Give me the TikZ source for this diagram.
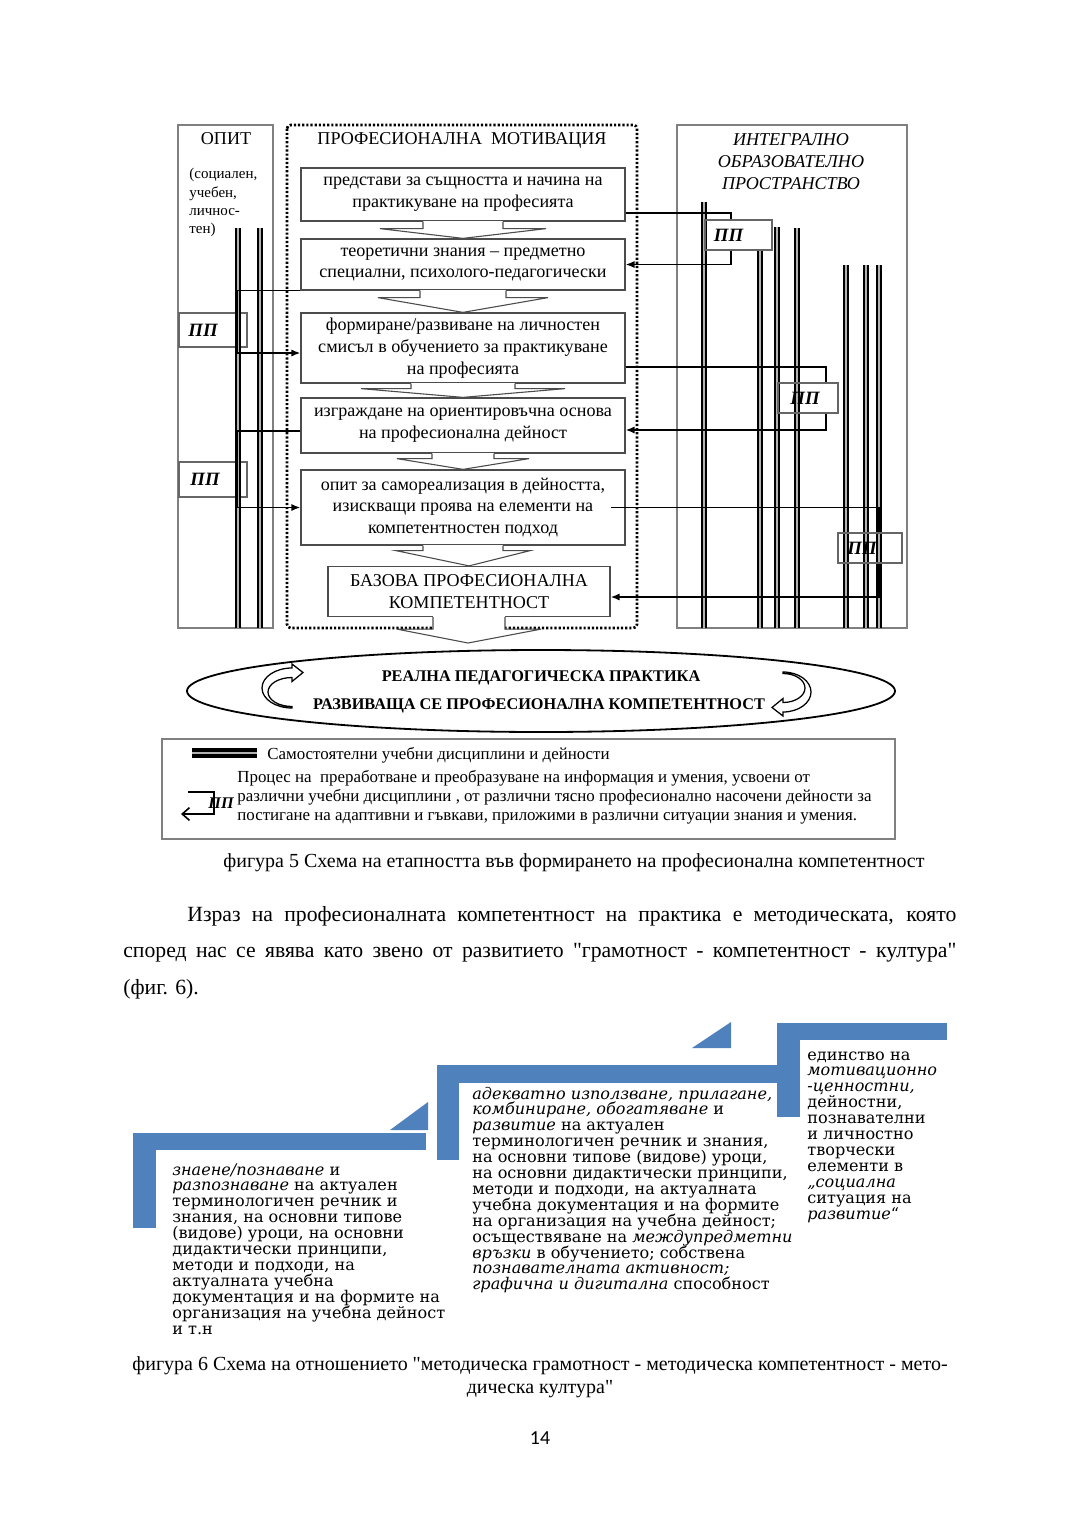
\documentclass[tikz,border=0pt]{standalone}
\usepackage{fontspec}
\setmainfont{Liberation Serif}[Ligatures=TeXOff]
\newfontfamily\bookfont{DejaVu Serif}
\newfontfamily\pagefont{Carlito}
\usetikzlibrary{arrows.meta,calc,positioning}
\definecolor{stair}{HTML}{4F81BD}
\newlength\px
\setlength\px{0.019444cm}

\tikzset{
  stagebox/.style={draw=black!70, line width=0.7pt, minimum width=324\px, align=center,
    inner sep=0pt, font=\fontsize{10}{12.1}\selectfont},
  ppbox/.style={draw=black!60, line width=0.6pt, inner sep=0pt,
    font=\fontsize{10.4}{12}\selectfont\bfseries\itshape},
  conn/.style={line width=0.9pt},
  arr/.style={conn, -{Latex[length=5pt,width=4pt]}},
  chev/.style={draw=black!70, line width=0.6pt},
  discline/.style={line width=1.1pt, double=black!30, double distance=1.6pt},
  framebox/.style={draw=black!50, line width=0.8pt},
  legtext/.style={anchor=base west, inner sep=0pt, font=\fontsize{9.35}{11}\selectfont},
  stairtext/.style={anchor=base west, inner sep=0pt, font=\bookfont\fontsize{8.9}{9}\selectfont},
}

% block arrow between two stages
\newcommand{\stagearrow}[5]{%
  \fill[white] ($(#1.south)+(-#3,-1)$) rectangle ($(#1.south)+(#3,#5+1)$);
  \draw[chev] ($(#1.south)+(-#3,0)$) -- ($(#1.south)+(-#3,#5)$) -- ($(#1.south)+(-#4,#5)$)
    -- (#2) -- ($(#1.south)+(#4,#5)$) -- ($(#1.south)+(#3,#5)$) -- ($(#1.south)+(#3,0)$);}

\begin{document}
\begin{tikzpicture}[x=0.019444cm, y=-0.019444cm]
  \fill[white] (0,0) rectangle (1080,1527);
  \useasboundingbox (0,0) rectangle (1080,1527);

  % --- figure 5 ---
  \draw[framebox] (178,125) rectangle (273,628);
  \draw[framebox] (677,125) rectangle (907,628);
  \draw[line width=1.5pt, dash pattern=on 1.2pt off 1.1pt, rounded corners=2pt] (287,125) rectangle (637,628);

  \node[font=\fontsize{10}{12}\selectfont] (opittitle) at (226,139) {ОПИТ};
  \node[anchor=north west, align=left, inner sep=0pt, font=\fontsize{8.3}{10.1}\selectfont] (opitsub) at (189,168)
    {(социален,\\учебен,\\личнос-\\тен)};
  \node[font=\fontsize{10}{12}\selectfont] (motiv) at (462,140) {ПРОФЕСИОНАЛНА\ \ МОТИВАЦИЯ};
  \node[align=center, font=\fontsize{10}{12.1}\selectfont\itshape] (integr) at (791,161.5)
    {ИНТЕГРАЛНО\\ОБРАЗОВАТЕЛНО\\ПРОСТРАНСТВО};

  \node[ppbox, minimum width=68\px, minimum height=34\px] (lpp1) at (213,330) {ПП\hspace*{20\px}};
  \node[ppbox, minimum width=68\px, minimum height=35\px] (lpp2) at (213,479.5) {ПП\hspace*{16\px}};

  \foreach \xd in {238,260}
    \draw[discline] (\xd,228) -- (\xd,628);
  \foreach \xd/\yt in {704/202, 760/250, 777/227, 797/228, 846/265, 866/265, 879/265}
    \draw[discline] (\xd,\yt) -- (\xd,628);

  \node[stagebox, minimum height=53\px] (pred) at (463,194.5) {представи за същността и начина на\\практикуване на професията};
  \node[stagebox, minimum height=51\px] (teor) at (463,264.5) {теоретични знания – предметно\\специални, психолого-педагогически};
  \node[stagebox, minimum height=70\px] (form) at (463,348) {формиране/развиване на личностен\\смисъл в обучението за практикуване\\на професията};
  \node[stagebox, minimum height=55\px] (izgr) at (463,425.5) {изграждане на ориентировъчна основа\\на професионална дейност};
  \node[stagebox, minimum height=75\px] (opit) at (463,507.5) {опит за самореализация в дейността,\\изискващи проява на елементи на\\компетентностен подход};
  \node[stagebox, minimum width=282\px, minimum height=50\px] (baza) at (469,591.5) {БАЗОВА ПРОФЕСИОНАЛНА\\КОМПЕТЕНТНОСТ};

  \stagearrow{pred}{teor.north}{40}{83}{7}
  \stagearrow{teor}{form.north}{43}{85}{7}
  \stagearrow{form}{izgr.north}{52}{102}{5}
  \stagearrow{izgr}{opit.north}{31}{66}{5}
  \stagearrow{opit}{baza.north}{40}{67}{5}
  \coordinate (ptip) at (468,643);
  \stagearrow{baza}{ptip}{36}{72}{12}

  % left connectors
  \draw[arr] (teor.south west) -| ($(form.west)+(-63,5)$) -- ($(form.west)+(0,5)$);
  \draw[arr] ($(izgr.west)+(0,5.5)$) -| ($(opit.west)+(-63,0)$) -- (opit.west);

  % right connectors
  \node[ppbox, minimum width=67\px, minimum height=30\px] (rpp1) at (738.5,235) {ПП\hspace*{20\px}};
  \node[ppbox, minimum width=60\px, minimum height=30\px] (rpp2) at (808,398) {ПП\hspace*{6\px}};
  \node[ppbox, minimum width=64\px, minimum height=30\px] (rpp3) at (870,548) {ПП\hspace*{16\px}};
  \draw[conn] ($(pred.east)+(0,18.5)$) -| ($(rpp1.north)+(-7.5,0)$);
  \draw[arr] ($(rpp1.south)+(-7.5,0)$) |- (teor.east);
  \draw[conn] ($(form.east)+(0,19)$) -| ($(rpp2.north)+(18,0)$);
  \draw[arr] ($(rpp2.south)+(18,0)$) |- ($(izgr.east)+(0,4.5)$);
  \draw[conn] ($(opit.east)+(-15,0)$) -| ($(rpp3.north)+(9,0)$);
  \draw[arr] ($(rpp3.south)+(9,0)$) |- ($(baza.east)+(0,5.5)$);

  % ellipse
  \draw[line width=1pt] (541,691) ellipse [x radius=354, y radius=41];
  \node[font=\fontsize{9}{10}\selectfont\bfseries] (real) at (541,678) {РЕАЛНА ПЕДАГОГИЧЕСКА ПРАКТИКА};
  \node[font=\fontsize{9}{10}\selectfont\bfseries] (razv) at (539,706) {РАЗВИВАЩА СЕ ПРОФЕСИОНАЛНА КОМПЕТЕНТНОСТ};
  \filldraw[fill=white, draw=black, line width=0.7pt] (292,708) arc[start angle=90, end angle=270, x radius=30, y radius=20]
    -- ++(0,-4) -- ++(11,8.5) -- ++(-11,9) -- ++(0,-4) arc[start angle=270, end angle=90, x radius=24, y radius=14.5] -- cycle;
  \filldraw[fill=white, draw=black, line width=0.7pt] (783,672) arc[start angle=-90, end angle=90, x radius=28, y radius=20]
    -- ++(0,4) -- ++(-11,-8.5) -- ++(11,-9) -- ++(0,4) arc[start angle=90, end angle=-90, x radius=22, y radius=14.5] -- cycle;

  % legend
  \draw[framebox, line width=1pt] (162,739) rectangle (895,839);
  \draw[discline, line width=2pt, double distance=1.6pt] (192,753) -- (257,753);
  \node[legtext] (leg1) at (267,759) {Самостоятелни учебни дисциплини и дейности};
  \node[legtext] (leg2) at (237,782) {Процес на\ \ преработване и преобразуване на информация и умения, усвоени от};
  \node[legtext] (leg3) at (237,801) {различни учебни дисциплини , от различни тясно професионално насочени дейности за};
  \node[legtext] (leg4) at (237,820) {постигане на адаптивни и гъвкави, приложими в различни ситуации знания и умения.};
  \coordinate (lgA) at (188,792);
  \coordinate (lgB) at (181,814);
  \draw[conn, -{Straight Barb[length=4pt,width=7pt]}] (lgA) -- (214,792) |- (lgB);
  \node[font=\fontsize{9}{11}\selectfont\bfseries\itshape] (legpp) at (221,803) {ПП};

  % captions and text
  \node[anchor=base, inner sep=0pt, font=\fontsize{11.05}{14}\selectfont] (cap5) at (574,867)
    {фигура 5 Схема на етапността във формирането на професионална компетентност};
  \node[anchor=base west, inner sep=0pt, font=\fontsize{12}{14}\selectfont] (par1) at (187,921)
    {\makebox[769\px][s]{Израз на професионалната компетентност на практика е методическата, която}};
  \node[anchor=base west, inner sep=0pt, font=\fontsize{12}{14}\selectfont] (par2) at (123,957)
    {\makebox[833\px][s]{според нас се явява като звено от развитието "грамотност - компетентност - култура"}};
  \node[anchor=base west, inner sep=0pt, font=\fontsize{12}{14}\selectfont] (par3) at (123,994) {(фиг. 6).};

  % --- figure 6 ---
  \fill[stair] (133,1133) rectangle (426,1150);
  \fill[stair] (133,1133) rectangle (156,1228);
  \fill[stair] (390,1130) -- (428,1130) -- (428,1102) -- cycle;
  \fill[stair] (437,1065) rectangle (777,1083);
  \fill[stair] (437,1065) rectangle (459,1160);
  \fill[stair] (692,1048) -- (731,1048) -- (731,1022) -- cycle;
  \fill[stair] (777,1023) rectangle (947,1040);
  \fill[stair] (777,1023) rectangle (800,1117);

  \foreach \ln [count=\k] in {{\textit{знаене/познаване} и}, {\textit{разпознаване} на актуален},
      {терминологичен речник и}, {знания, на основни типове}, {(видове) уроци, на основни},
      {дидактически принципи,}, {методи и подходи, на}, {актуалната учебна},
      {документация и на формите на}, {организация на учебна дейност}, {и т.н}}
    \node[stairtext] (sa\k) at (172,{1175+15.95*(\k-1)}) {\ln};
  \foreach \ln [count=\k] in {{\textit{адекватно използване, прилагане,}}, {\textit{комбиниране, обогатяване} и},
      {\textit{развитие} на актуален}, {терминологичен речник и знания,}, {на основни типове (видове) уроци,},
      {на основни дидактически принципи,}, {методи и подходи, на актуалната}, {учебна документация и на формите},
      {на организация на учебна дейност;}, {осъществяване на \textit{междупредметни}},
      {\textit{връзки} в обучението; собствена}, {\textit{познавателната активност;}},
      {\textit{графична и дигитална} способност}}
    \node[stairtext] (sb\k) at (472,{1099+15.9*(\k-1)}) {\ln};
  \foreach \ln [count=\k] in {{единство на}, {\textit{мотивационно}}, {\textit{-ценностни,}}, {дейностни,},
      {познавателни}, {и личностно}, {творчески}, {елементи в}, {\textit{„социална}},
      {ситуация на}, {\textit{развитие}“}}
    \node[stairtext] (sc\k) at (807,{1060+15.9*(\k-1)}) {\ln};

  \node[anchor=base, inner sep=0pt, font=\fontsize{11.05}{14}\selectfont] (cap6a) at (540,1370)
    {фигура 6 Схема на отношението "методическа грамотност - методическа компетентност - мето-};
  \node[anchor=base, inner sep=0pt, font=\fontsize{11.05}{14}\selectfont] (cap6b) at (540,1393) {дическа култура"};
  \node[anchor=base, inner sep=0pt, font=\pagefont\fontsize{11}{13}\selectfont] (pgnum) at (540,1444) {14};
\end{tikzpicture}
\end{document}
